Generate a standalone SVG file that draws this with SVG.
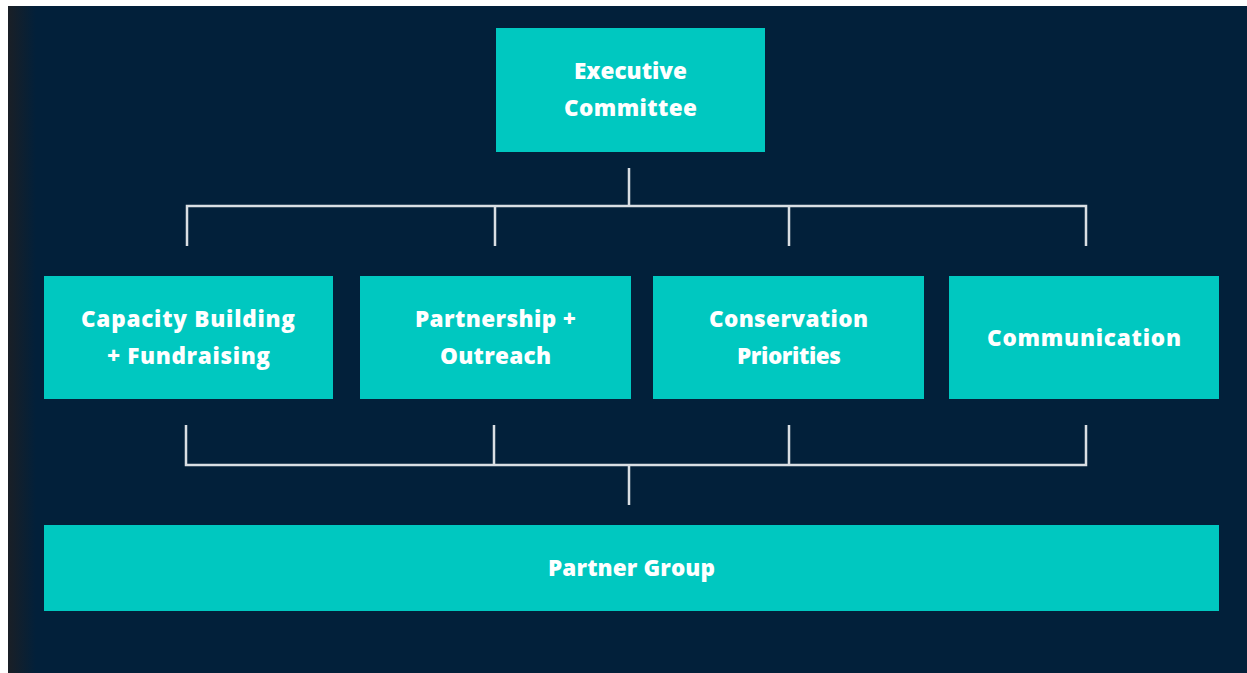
<svg xmlns="http://www.w3.org/2000/svg" width="1247" height="673" viewBox="0 0 1247 673">
  <style>
    .box { fill: #00C8C0; }
    .label { font-family: "Open Sans", "Liberation Sans", sans-serif; font-weight: 800; font-size: 22.5px; fill: #FFFFFF; text-anchor: middle; dominant-baseline: central; }
    .wire { fill: none; stroke: #D9DEE3; stroke-width: 2.5; stroke-linecap: butt; stroke-linejoin: miter; }
  </style>
  <defs>
    <linearGradient id="edge" x1="0" y1="0" x2="1" y2="0">
      <stop offset="0" stop-color="#1A1F26"/>
      <stop offset="1" stop-color="#02203A"/>
    </linearGradient>
  </defs>

  <!-- page and backdrop -->
  <rect x="0" y="0" width="1247" height="673" fill="#FFFFFF"/>
  <rect x="8" y="6" width="1239" height="667" fill="#02203A"/>
  <rect x="8" y="6" width="28" height="667" fill="url(#edge)"/>

  <!-- connectors -->
  <g id="connectors">
    <path class="wire" d="M629 168 V206 M187 246 V206 H1086 V246 M495 206 V246 M789 206 V246"/>
    <path class="wire" d="M186 425 V465 H1086 V425 M494 425 V465 M789 425 V465 M629 465 V505"/>
  </g>

  <!-- nodes -->
  <g id="executive-committee">
    <rect class="box" x="496" y="28" width="269" height="124"/>
    <text class="label" x="630.5" y="70" textLength="113">Executive</text>
    <text class="label" x="630.5" y="107" textLength="133">Committee</text>
  </g>

  <g id="capacity-building">
    <rect class="box" x="44" y="276" width="289" height="123"/>
    <text class="label" x="188" y="318" textLength="214">Capacity Building</text>
    <text class="label" x="188.5" y="355" textLength="163">+ Fundraising</text>
  </g>

  <g id="partnership-outreach">
    <rect class="box" x="360" y="276" width="271" height="123"/>
    <text class="label" x="495.5" y="318" textLength="161">Partnership +</text>
    <text class="label" x="495.5" y="355" textLength="111">Outreach</text>
  </g>

  <g id="conservation-priorities">
    <rect class="box" x="653" y="276" width="271" height="123"/>
    <text class="label" x="788.5" y="318" textLength="159">Conservation</text>
    <text class="label" x="789" y="355" textLength="104">Priorities</text>
  </g>

  <g id="communication">
    <rect class="box" x="949" y="276" width="270" height="123"/>
    <text class="label" x="1084" y="337" textLength="194">Communication</text>
  </g>

  <g id="partner-group">
    <rect class="box" x="44" y="525" width="1175" height="86"/>
    <text class="label" x="631.5" y="567" textLength="167">Partner Group</text>
  </g>
</svg>
